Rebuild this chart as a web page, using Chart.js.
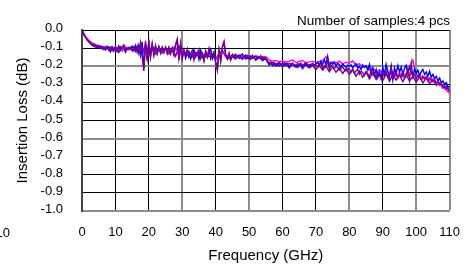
<!DOCTYPE html>
<html>
<head>
<meta charset="utf-8">
<script src="https://cdn.jsdelivr.net/npm/chart.js@4"></script>
<style>
  html, body { margin: 0; padding: 0; background: #fff; }
  #wrap { width: 474px; height: 267px; }
</style>
</head>
<body>
<div id="wrap"><canvas id="c" width="474" height="267"></canvas></div>
<script>
// ---- data ----
const chartTitle = 'Number of samples:4 pcs';
const xTitle = 'Frequency (GHz)';
const yTitle = 'Insertion Loss (dB)';
const sweepStepFine = 0.5;   // GHz between points of the fine traces
const sweepStepCoarse = 1;   // GHz between points of the coarse traces

// sample 1 (purple), 0 .. 110 GHz every 0.5 GHz
const samplePurple = [
  0.000,-0.022,-0.040,-0.052,-0.066,-0.072,-0.085,-0.080,-0.095,-0.086,
  -0.092,-0.100,-0.094,-0.108,-0.098,-0.090,-0.112,-0.096,-0.104,-0.118,
  -0.094,-0.110,-0.124,-0.092,-0.102,-0.086,-0.116,-0.108,-0.098,-0.104,
  -0.110,-0.092,-0.118,-0.088,-0.130,-0.070,-0.150,-0.226,-0.060,-0.170,
  -0.055,-0.145,-0.075,-0.140,-0.085,-0.128,-0.096,-0.125,-0.094,-0.122,
  -0.098,-0.130,-0.096,-0.128,-0.104,-0.140,-0.080,-0.050,-0.165,-0.075,
  -0.160,-0.118,-0.142,-0.105,-0.150,-0.132,-0.112,-0.166,-0.128,-0.140,
  -0.108,-0.158,-0.130,-0.172,-0.120,-0.146,-0.102,-0.160,-0.138,-0.118,
  -0.182,-0.225,-0.108,-0.172,-0.090,-0.062,-0.140,-0.162,-0.128,-0.166,
  -0.136,-0.156,-0.134,-0.150,-0.158,-0.138,-0.132,-0.154,-0.160,-0.140,
  -0.144,-0.162,-0.140,-0.152,-0.166,-0.146,-0.156,-0.142,-0.164,-0.150,
  -0.158,-0.170,-0.182,-0.176,-0.190,-0.178,-0.186,-0.195,-0.180,-0.187,
  -0.192,-0.181,-0.188,-0.198,-0.184,-0.190,-0.182,-0.194,-0.200,-0.186,
  -0.190,-0.183,-0.196,-0.188,-0.180,-0.192,-0.202,-0.190,-0.186,-0.198,
  -0.194,-0.206,-0.190,-0.184,-0.212,-0.198,-0.205,-0.165,-0.218,-0.196,
  -0.204,-0.215,-0.200,-0.208,-0.222,-0.210,-0.205,-0.218,-0.226,-0.212,
  -0.220,-0.232,-0.214,-0.240,-0.225,-0.218,-0.245,-0.228,-0.236,-0.250,
  -0.230,-0.242,-0.256,-0.226,-0.248,-0.238,-0.262,-0.235,-0.250,-0.268,
  -0.244,-0.258,-0.232,-0.262,-0.248,-0.205,-0.272,-0.250,-0.236,-0.265,
  -0.246,-0.258,-0.236,-0.268,-0.252,-0.215,-0.280,-0.185,-0.262,-0.245,
  -0.270,-0.250,-0.262,-0.276,-0.255,-0.268,-0.262,-0.280,-0.266,-0.274,
  -0.286,-0.272,-0.294,-0.282,-0.304,-0.296,-0.314,-0.306,-0.328,-0.320,
  -0.338
];

// sample 2 (blue), 0 .. 110 GHz every 0.5 GHz
const sampleBlue = [
  0.000,-0.025,-0.038,-0.055,-0.062,-0.076,-0.080,-0.090,-0.084,-0.098,
  -0.094,-0.088,-0.104,-0.096,-0.110,-0.092,-0.100,-0.120,-0.094,-0.108,
  -0.100,-0.118,-0.090,-0.112,-0.096,-0.084,-0.122,-0.100,-0.106,-0.096,
  -0.090,-0.114,-0.086,-0.122,-0.084,-0.138,-0.065,-0.212,-0.075,-0.155,
  -0.065,-0.150,-0.080,-0.134,-0.090,-0.132,-0.092,-0.128,-0.098,-0.124,
  -0.096,-0.126,-0.100,-0.132,-0.098,-0.130,-0.084,-0.058,-0.155,-0.082,
  -0.150,-0.110,-0.156,-0.126,-0.118,-0.160,-0.135,-0.108,-0.148,-0.124,
  -0.162,-0.112,-0.140,-0.168,-0.116,-0.152,-0.128,-0.106,-0.158,-0.132,
  -0.176,-0.212,-0.112,-0.168,-0.096,-0.070,-0.136,-0.158,-0.132,-0.162,
  -0.144,-0.138,-0.150,-0.146,-0.140,-0.155,-0.148,-0.142,-0.150,-0.158,
  -0.150,-0.144,-0.156,-0.150,-0.146,-0.160,-0.152,-0.158,-0.150,-0.164,
  -0.160,-0.176,-0.188,-0.180,-0.196,-0.186,-0.192,-0.184,-0.198,-0.190,
  -0.186,-0.198,-0.192,-0.185,-0.202,-0.194,-0.188,-0.200,-0.192,-0.206,
  -0.196,-0.188,-0.200,-0.194,-0.186,-0.202,-0.192,-0.198,-0.184,-0.194,
  -0.188,-0.178,-0.196,-0.172,-0.190,-0.165,-0.192,-0.145,-0.198,-0.180,
  -0.190,-0.178,-0.198,-0.184,-0.192,-0.204,-0.188,-0.198,-0.206,-0.194,
  -0.200,-0.192,-0.210,-0.198,-0.186,-0.212,-0.200,-0.218,-0.194,-0.208,
  -0.198,-0.222,-0.190,-0.236,-0.210,-0.248,-0.218,-0.262,-0.230,-0.270,
  -0.205,-0.250,-0.190,-0.228,-0.262,-0.200,-0.276,-0.210,-0.240,-0.196,
  -0.232,-0.205,-0.250,-0.212,-0.195,-0.242,-0.205,-0.230,-0.258,-0.215,
  -0.240,-0.222,-0.252,-0.230,-0.218,-0.246,-0.232,-0.256,-0.228,-0.262,
  -0.245,-0.268,-0.256,-0.280,-0.266,-0.292,-0.282,-0.300,-0.290,-0.318,
  -0.308
];

// sample 3 (magenta), 0 .. 110 GHz every 1 GHz
const sampleMagenta = [
  0.000,-0.034,-0.060,-0.070,-0.086,-0.084,-0.100,-0.090,-0.110,-0.092,
  -0.114,-0.090,-0.118,-0.092,-0.110,-0.096,-0.112,-0.094,-0.135,-0.080,
  -0.135,-0.090,-0.126,-0.098,-0.122,-0.100,-0.126,-0.104,-0.090,-0.145,
  -0.118,-0.142,-0.126,-0.150,-0.124,-0.138,-0.130,-0.148,-0.126,-0.140,
  -0.158,-0.132,-0.110,-0.146,-0.140,-0.150,-0.138,-0.146,-0.142,-0.148,
  -0.146,-0.152,-0.142,-0.156,-0.150,-0.148,-0.165,-0.172,-0.168,-0.176,
  -0.170,-0.178,-0.172,-0.166,-0.180,-0.174,-0.168,-0.182,-0.176,-0.172,
  -0.180,-0.174,-0.168,-0.148,-0.186,-0.176,-0.182,-0.172,-0.188,-0.178,
  -0.184,-0.170,-0.196,-0.186,-0.204,-0.198,-0.222,-0.208,-0.232,-0.220,
  -0.238,-0.222,-0.248,-0.230,-0.256,-0.236,-0.252,-0.240,-0.210,-0.166,
  -0.258,-0.246,-0.270,-0.256,-0.280,-0.270,-0.294,-0.292,-0.322,-0.330,
  -0.352
];

// sample 4 (violet), 0 .. 110 GHz every 1 GHz
const sampleViolet = [
  0.000,-0.038,-0.056,-0.076,-0.080,-0.096,-0.090,-0.108,-0.092,-0.114,
  -0.092,-0.120,-0.094,-0.118,-0.096,-0.116,-0.094,-0.120,-0.110,-0.095,
  -0.140,-0.088,-0.132,-0.094,-0.128,-0.098,-0.132,-0.100,-0.145,-0.090,
  -0.140,-0.125,-0.150,-0.130,-0.145,-0.120,-0.152,-0.134,-0.148,-0.138,
  -0.165,-0.130,-0.118,-0.148,-0.158,-0.136,-0.160,-0.140,-0.162,-0.138,
  -0.160,-0.142,-0.166,-0.148,-0.170,-0.156,-0.194,-0.178,-0.200,-0.180,
  -0.204,-0.184,-0.210,-0.186,-0.206,-0.190,-0.214,-0.188,-0.210,-0.196,
  -0.218,-0.196,-0.222,-0.200,-0.230,-0.204,-0.234,-0.208,-0.240,-0.214,
  -0.244,-0.220,-0.256,-0.226,-0.262,-0.232,-0.270,-0.236,-0.274,-0.240,
  -0.280,-0.242,-0.284,-0.246,-0.276,-0.250,-0.286,-0.248,-0.282,-0.256,
  -0.288,-0.258,-0.292,-0.264,-0.296,-0.276,-0.306,-0.290,-0.322,-0.310,
  -0.340
];

const xTickValues = [0,10,20,30,40,50,60,70,80,90,100,110];
const yTickValues = [0,-0.1,-0.2,-0.3,-0.4,-0.5,-0.6,-0.7,-0.8,-0.9,-1.0];

// ---- build ----
function toPoints(values, step) {
  return values.map((v, i) => ({ x: i * step, y: v }));
}
const FONT = "'Liberation Sans', Arial, Helvetica, sans-serif";
const grayX = [30, 50, 80, 100, 110];
const grayY = [-0.2, -0.6, -1.0];
const isIn = (arr, v) => arr.some(a => Math.abs(a - v) < 1e-6);

const textPlugin = {
  id: 'extraText',
  afterDraw(chart) {
    const ctx = chart.ctx;
    ctx.save();
    ctx.fillStyle = '#000';
    ctx.font = '13.5px ' + FONT;
    ctx.textAlign = 'right';
    ctx.textBaseline = 'alphabetic';
    ctx.fillText(chartTitle, 450, 25);
    ctx.font = '13px ' + FONT;
    ctx.textBaseline = 'middle';
    ctx.fillText('10', 10, 233);
    ctx.restore();
  }
};

const ds = (label, data, step, color, order) => ({
  label, data: toPoints(data, step), borderColor: color, backgroundColor: color,
  borderWidth: 1.4, pointRadius: 0, tension: 0, fill: false, order
});

new Chart(document.getElementById('c'), {
  type: 'line',
  data: {
    datasets: [
      ds('sample 1', samplePurple, sweepStepFine, '#800080', 0),
      ds('sample 2', sampleBlue, sweepStepFine, '#0000ff', 1),
      ds('sample 3', sampleMagenta, sweepStepCoarse, '#ff00ff', 2),
      ds('sample 4', sampleViolet, sweepStepCoarse, '#6a00b0', 3)
    ]
  },
  options: {
    responsive: false,
    animation: false,
    events: [],
    layout: { padding: { top: 30, right: 22, left: 0, bottom: 0 } },
    plugins: { legend: { display: false }, tooltip: { enabled: false } },
    scales: {
      x: {
        type: 'linear', min: 0, max: 110,
        afterBuildTicks(s) { s.ticks = xTickValues.map(v => ({ value: v })); },
        afterFit(s) { s.height = 56; },
        ticks: { color: '#000', font: { family: FONT, size: 13 }, padding: 14,
                 maxRotation: 0, autoSkip: false, callback: v => String(v) },
        grid: {
          drawTicks: false,
          color: c => isIn(grayX, c.tick.value) ? '#8c8c8c' : '#000',
          lineWidth: c => isIn(grayX, c.tick.value) ? 2 : 1
        },
        border: { display: true, color: '#8c8c8c', width: 2 },
        title: { display: true, text: xTitle, color: '#000',
                 font: { family: FONT, size: 15 }, padding: { top: 0, bottom: 2 } }
      },
      y: {
        type: 'linear', min: -1, max: 0,
        afterBuildTicks(s) { s.ticks = yTickValues.map(v => ({ value: v })); },
        afterFit(s) { s.width = 82; },
        ticks: { color: '#000', font: { family: FONT, size: 13 }, padding: 19,
                 labelOffset: -1.5, autoSkip: false,
                 callback: v => (Math.abs(v) < 1e-9 ? 0 : v).toFixed(1) },
        grid: {
          drawTicks: false,
          color: c => isIn(grayY, c.tick.value) ? '#8c8c8c' : '#000',
          lineWidth: c => isIn(grayY, c.tick.value) ? 2 : 1
        },
        border: { display: true, color: '#444', width: 2 },
        title: { display: true, text: yTitle, color: '#000',
                 font: { family: FONT, size: 15 }, padding: { top: 14, bottom: 0 } }
      }
    }
  },
  plugins: [textPlugin]
});
</script>
</body>
</html>
